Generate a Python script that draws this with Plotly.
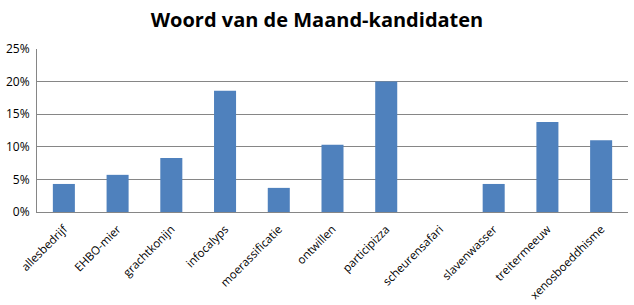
import plotly.graph_objects as go

categories = ["allesbedrijf", "EHBO-mier", "grachtkonijn", "infocalyps", "moerassificatie",
              "ontwillen", "participizza", "scheurensafari", "slavenwasser", "treitermeeuw",
              "xenosboeddhisme"]
values = [0.043, 0.057, 0.083, 0.186, 0.037, 0.103, 0.200, 0.0, 0.043, 0.138, 0.110]
y_ticks = [0, 0.05, 0.10, 0.15, 0.20, 0.25]
y_tick_labels = ["0%", "5%", "10%", "15%", "20%", "25%"]

fig = go.Figure(go.Bar(x=categories, y=values, marker_color="#4F81BD", marker_line_width=0))

fig.update_layout(
    width=634, height=305,
    margin=dict(l=37, r=6, t=49, b=93),
    paper_bgcolor="white", plot_bgcolor="white",
    bargap=0.59,
    showlegend=False,
    title=dict(text="<b>Woord van de Maand-kandidaten</b>", x=0.5, xanchor="center",
               y=0.935, yanchor="middle",
               font=dict(family="Open Sans", size=20, color="black")),
    font=dict(family="Open Sans", color="black"),
)
fig.update_xaxes(
    tickangle=-45, tickfont=dict(size=11.5, color="black"),
    showline=True, linecolor="#868686", linewidth=1, ticks="",
    showgrid=False, ticklabelstandoff=5, automargin=False,
)
fig.update_yaxes(
    range=[0, 0.25], tickvals=y_ticks, ticktext=y_tick_labels,
    tickfont=dict(size=12, color="black"),
    showgrid=True, gridcolor="#868686", gridwidth=1,
    showline=True, linecolor="#868686", linewidth=1,
    zeroline=False, ticks="", ticklen=0, ticklabelstandoff=4, automargin=False,
)

fig.write_html("out.html")
